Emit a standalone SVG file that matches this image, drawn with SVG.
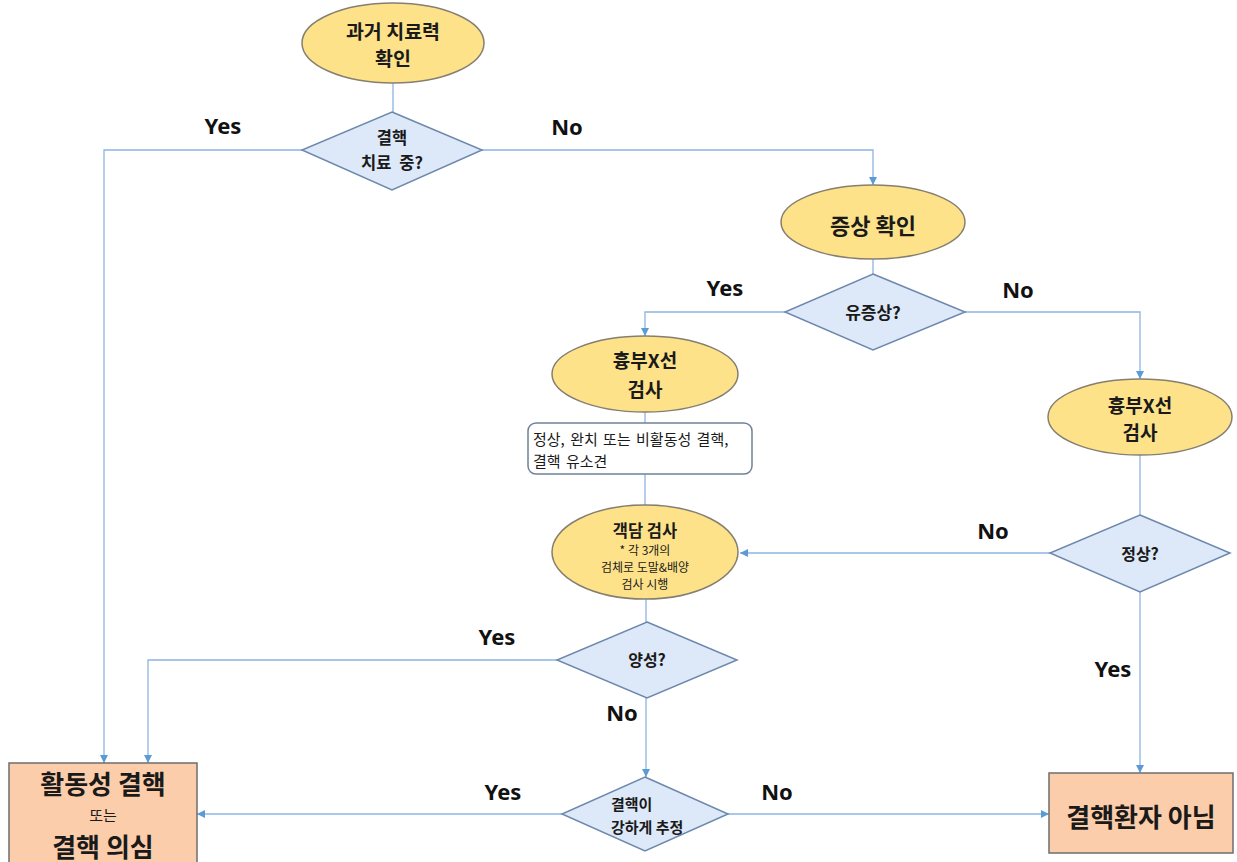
<svg xmlns="http://www.w3.org/2000/svg" width="1237" height="862" viewBox="0 0 1237 862">
<defs>
<marker id="arr" viewBox="0 0 10 10" refX="10" refY="5" markerWidth="8" markerHeight="8" markerUnits="userSpaceOnUse" orient="auto">
<path d="M0,0 L10,5 L0,10 z" fill="#5B9BD5"/>
</marker>
<style>
.ell{fill:#FDE28A;stroke:#857F70;stroke-width:1.5}
.dia{fill:#DDE9F8;stroke:#6D88AD;stroke-width:1.5}
.box{fill:#FCCDAA;stroke:#6E6E6E;stroke-width:1.5}
.note{fill:#FFFFFF;stroke:#6F8299;stroke-width:1.5}
.con{fill:none;stroke:#8DB4E2;stroke-width:1.3}
.t{font-family:"Noto Sans CJK KR","Noto Sans",sans-serif;fill:#1A1A1A;text-anchor:middle;dominant-baseline:central}
.s{text-anchor:start}
.b{font-weight:bold}
.lbl{font-family:"Noto Sans","Noto Sans CJK KR",sans-serif;font-weight:bold;font-size:22px;fill:#111;text-anchor:middle;dominant-baseline:central}
</style>
</defs>
<rect width="1237" height="862" fill="#FFFFFF"/>

<g id="connectors">
<polyline class="con" points="393,82 393,112"/>
<polyline class="con" points="302,150 104,150 104,763" marker-end="url(#arr)"/>
<polyline class="con" points="482,150 873,150 873,185" marker-end="url(#arr)"/>
<polyline class="con" points="873,259 873,274"/>
<polyline class="con" points="785,312 645,312 645,336" marker-end="url(#arr)"/>
<polyline class="con" points="965,312 1140,312 1140,379" marker-end="url(#arr)"/>
<polyline class="con" points="645,412 645,423"/>
<polyline class="con" points="645,474 645,505"/>
<polyline class="con" points="1140,455 1140,515"/>
<polyline class="con" points="1050,553 740,553" marker-end="url(#arr)"/>
<polyline class="con" points="646,599 646,622"/>
<polyline class="con" points="557,660 148,660 148,763" marker-end="url(#arr)"/>
<polyline class="con" points="646,698 646,777" marker-end="url(#arr)"/>
<polyline class="con" points="562,814 197,814" marker-end="url(#arr)"/>
<polyline class="con" points="728,814 1049,814" marker-end="url(#arr)"/>
<polyline class="con" points="1140,592 1140,773" marker-end="url(#arr)"/>
</g>

<g id="labels">
<text class="lbl" x="223" y="125">Yes</text>
<text class="lbl" x="567" y="126">No</text>
<text class="lbl" x="725" y="287">Yes</text>
<text class="lbl" x="1018" y="289">No</text>
<text class="lbl" x="993" y="530">No</text>
<text class="lbl" x="497" y="636">Yes</text>
<text class="lbl" x="622" y="712">No</text>
<text class="lbl" x="1113" y="668">Yes</text>
<text class="lbl" x="503" y="791">Yes</text>
<text class="lbl" x="777" y="791">No</text>
</g>

<g id="n-history">
<ellipse class="ell" cx="393" cy="43" rx="91" ry="40"/>
<text class="t b" x="393" y="30" font-size="19.5">과거 치료력</text>
<text class="t b" x="393" y="57" font-size="19.5">확인</text>
</g>

<g id="n-treating">
<polygon class="dia" points="392,112 482,150 392,190 302,150"/>
<text class="t b" x="392" y="137" font-size="16.5">결핵</text>
<text class="t b" x="392" y="162" font-size="16.5" word-spacing="4">치료 중?</text>
</g>

<g id="n-symptom">
<ellipse class="ell" cx="873" cy="222" rx="92" ry="37"/>
<text class="t b" x="873" y="224" font-size="22">증상 확인</text>
</g>

<g id="n-symptomatic">
<polygon class="dia" points="873,274 965,312 873,350 785,312"/>
<text class="t b" x="873" y="311" font-size="17">유증상?</text>
</g>

<g id="n-xray-left">
<ellipse class="ell" cx="645" cy="374" rx="93" ry="38"/>
<text class="t b" x="645" y="359" font-size="19">흉부X선</text>
<text class="t b" x="645" y="388" font-size="19">검사</text>
</g>

<g id="n-finding">
<rect class="note" x="528" y="423" width="224" height="51" rx="8"/>
<text class="t s" x="533" y="438" font-size="15" word-spacing="2" fill="#333">정상, 완치 또는 비활동성 결핵,</text>
<text class="t s" x="533" y="460" font-size="15" word-spacing="2" fill="#333">결핵 유소견</text>
</g>

<g id="n-sputum">
<ellipse class="ell" cx="645" cy="552" rx="93" ry="47"/>
<text class="t b" x="645" y="530" font-size="16.5">객담 검사</text>
<text class="t" x="645" y="549" font-size="12">* 각 3개의</text>
<text class="t" x="645" y="566" font-size="12">검체로 도말&amp;배양</text>
<text class="t" x="645" y="583" font-size="12">검사 시행</text>
</g>

<g id="n-positive">
<polygon class="dia" points="647,622 737,660 647,698 557,660"/>
<text class="t b" x="647" y="659" font-size="16">양성?</text>
</g>

<g id="n-strong">
<polygon class="dia" points="645,777 728,814 645,851 562,814"/>
<text class="t b s" x="611" y="803" font-size="15">결핵이</text>
<text class="t b s" x="611" y="826" font-size="15">강하게 추정</text>
</g>

<g id="n-xray-right">
<ellipse class="ell" cx="1140" cy="417" rx="92" ry="38"/>
<text class="t b" x="1140" y="404" font-size="19">흉부X선</text>
<text class="t b" x="1140" y="431" font-size="19">검사</text>
</g>

<g id="n-normal">
<polygon class="dia" points="1140,515 1230,553 1140,592 1050,553"/>
<text class="t b" x="1140" y="553" font-size="16">정상?</text>
</g>

<g id="n-active">
<rect class="box" x="9" y="763" width="188" height="104"/>
<text class="t b" x="103" y="782" font-size="26">활동성 결핵</text>
<text class="t" x="103" y="814" font-size="15">또는</text>
<text class="t b" x="103" y="845" font-size="26">결핵 의심</text>
</g>

<g id="n-not">
<rect class="box" x="1049" y="773" width="184" height="80"/>
<text class="t b" x="1141" y="815" font-size="26">결핵환자 아님</text>
</g>
</svg>
